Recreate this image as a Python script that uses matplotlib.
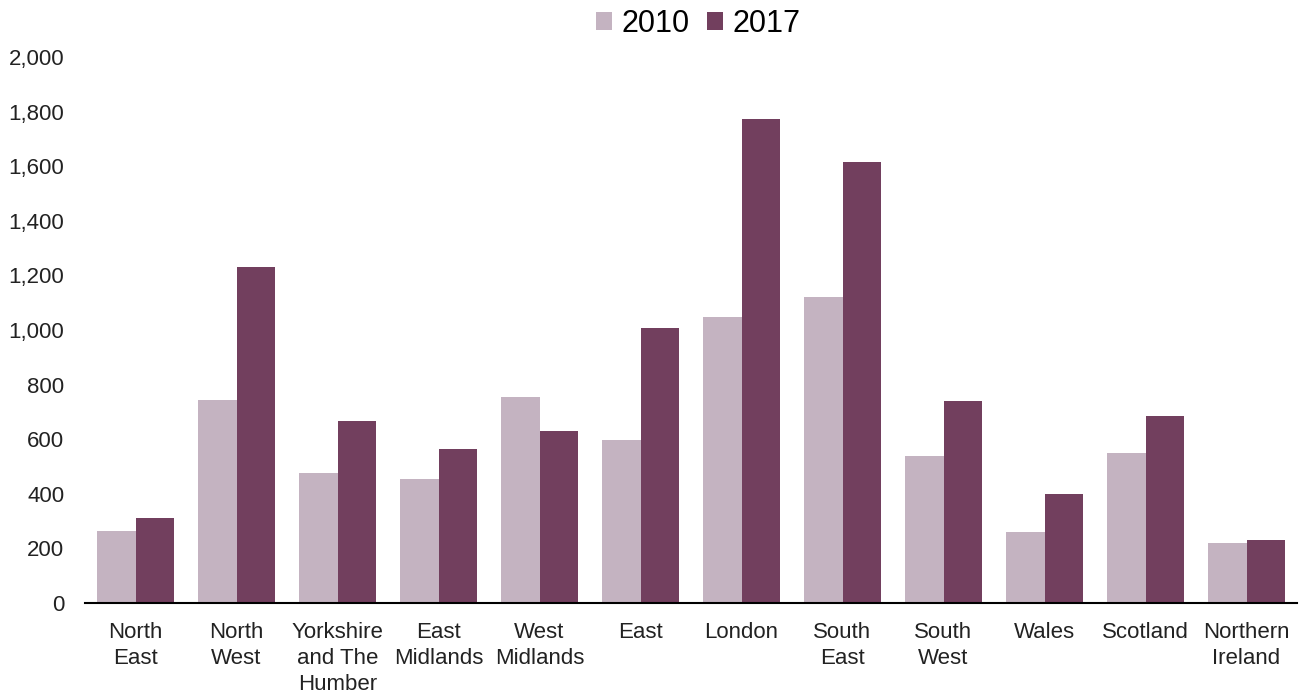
import matplotlib.pyplot as plt
import numpy as np
from matplotlib.ticker import FuncFormatter

plt.rcParams["font.family"] = ["Liberation Sans", "DejaVu Sans"]

regions = [
    "North\nEast", "North\nWest", "Yorkshire\nand The\nHumber", "East\nMidlands",
    "West\nMidlands", "East", "London", "South\nEast", "South\nWest", "Wales",
    "Scotland", "Northern\nIreland",
]
values_2010 = [264, 744, 476, 454, 755, 597, 1048, 1121, 538, 260, 549, 220]
values_2017 = [311, 1231, 667, 564, 630, 1007, 1773, 1615, 740, 399, 685, 231]

color_2010 = "#C4B3C1"
color_2017 = "#723F5E"

fig = plt.figure(figsize=(13, 6.95), dpi=100)
ax = fig.add_axes([0.0654, 0.1324, 0.9323, 0.7856])

x = np.arange(len(regions))
width = 0.385
ax.bar(x - width / 2, values_2010, width, color=color_2010, label="2010")
ax.bar(x + width / 2, values_2017, width, color=color_2017, label="2017")

ax.set_xlim(-0.5, len(regions) - 0.5)
ax.set_ylim(0, 2000)
ax.set_yticks(range(0, 2001, 200))
ax.yaxis.set_major_formatter(FuncFormatter(lambda v, p: f"{int(v):,}"))
ax.set_xticks(x)
ax.set_xticklabels(regions, fontsize=16, color="#222222", linespacing=1.3)
ax.tick_params(axis="y", labelsize=16, colors="#222222", length=0, pad=15)
ax.tick_params(axis="x", length=0, pad=14)

for side in ["top", "right", "left"]:
    ax.spines[side].set_visible(False)
ax.spines["bottom"].set_linewidth(1.5)
ax.spines["bottom"].set_color("black")

fig.legend(
    loc="center", bbox_to_anchor=(0.537, 0.966), ncol=2, frameon=False,
    fontsize=22, handlelength=0.55, handleheight=0.55, handletextpad=0.3,
    columnspacing=0.55,
)

fig.savefig("out.png", dpi=100)
